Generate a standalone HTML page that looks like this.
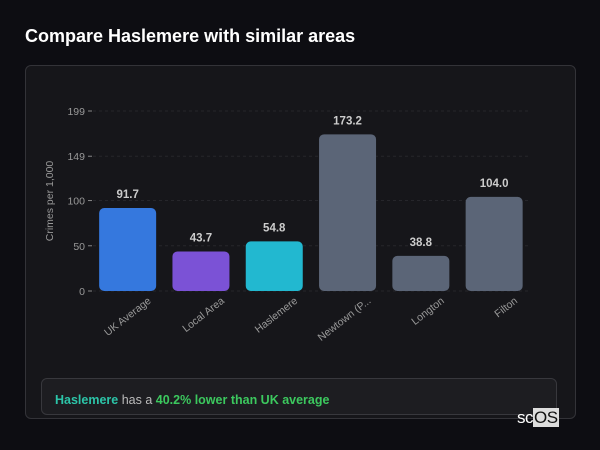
<!DOCTYPE html>
<html><head><meta charset="utf-8"><style>
body{margin:0;width:600px;height:450px;background:#0d0d12;font-family:"Liberation Sans","DejaVu Sans",sans-serif;overflow:hidden;position:relative}
#title{position:absolute;left:25px;top:26px;color:#fff;font-size:18px;font-weight:bold}
#card{position:absolute;left:25px;top:65px;width:549px;height:352px;background:#16161a;border:1px solid #333338;border-radius:6px}
#note{position:absolute;left:41px;top:378px;width:516px;height:37px;background:#1d1d21;border:1px solid #38383d;border-radius:6px;font-size:12.5px;line-height:42px;box-sizing:border-box;padding-left:13px;color:#bbb}
#logo{position:absolute;left:517px;top:408px;font-size:17px;color:#fff;letter-spacing:-0.5px}
#logo span{background:#ddd;color:#111;padding:0 1px}
</style></head><body>
<div id="title">Compare Haslemere with similar areas</div>
<div id="card"></div>
<svg id="chart" width="600" height="450" style="position:absolute;left:0;top:0"></svg>
<div id="note"><b style="color:#2cc4a8">Haslemere</b> has a <b style="color:#3cc85e">40.2% lower than UK average</b></div>
<div id="logo">sc<span>OS</span></div>
<script>
const categories=["UK Average","Local Area","Haslemere","Newtown (P...","Longton","Filton"];
const values=[91.7,43.7,54.8,173.2,38.8,104.0];
const colors=["#3578de","#7b52d6","#22b8d0","#5b6577","#5b6577","#5b6577"];
const ticks=[0,50,100,149,199];
const svg=document.getElementById('chart');const NS="http://www.w3.org/2000/svg";
const y0=291,yTop=111,yMax=199,x0=91,bandW=73.3,barW=57;
const y=v=>y0-(v/yMax)*(y0-yTop);
const xc=i=>x0+bandW*(i+0.5);
function mk(t,a){const e=document.createElementNS(NS,t);for(const k in a)e.setAttribute(k,a[k]);svg.appendChild(e);return e;}
ticks.forEach(t=>{
 const g=mk('line',{x1:93,x2:531,y1:y(t),y2:y(t),stroke:'#26262b','stroke-dasharray':'3,3'});
 
 
 const tm=mk('line',{x1:88,x2:92,y1:y(t),y2:y(t),stroke:'#888'});
 
 
 const l=mk('text',{x:85,y:y(t)+4,'text-anchor':'end',fill:'#999','font-size':'10.5'});l.textContent=t;
 
 
});
const yt=mk('text',{transform:'translate(53,201) rotate(-90)','text-anchor':'middle',fill:'#999','font-size':'10.5'});yt.textContent='Crimes per 1,000';


categories.forEach((c,i)=>{
 const b=mk('rect',{x:xc(i)-barW/2,y:y(values[i]),width:barW,height:y0-y(values[i]),rx:5,fill:colors[i]});
 
 
 const v=mk('text',{x:xc(i),y:y(values[i])-10,'text-anchor':'middle',fill:'#ccc','font-size':'11.5','font-weight':'bold'});v.textContent=values[i].toFixed(1);
 
 
 const l=mk('text',{transform:`translate(${xc(i)+24},${y0+11}) rotate(-38)`,'text-anchor':'end',fill:'#999','font-size':'10.5'});l.textContent=c;
 
 
});
</script>
</body></html>
